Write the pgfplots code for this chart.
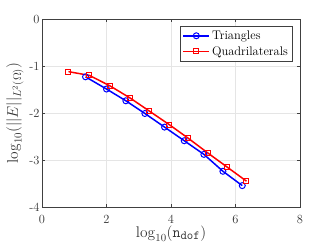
\RequirePackage{fix-cm}
\documentclass[border=0pt]{standalone}
\usepackage{pgfplots}
\pgfplotsset{compat=1.18}
\begin{document}
\begin{tikzpicture}[x=1bp,y=1bp]
\useasboundingbox (-42bp,-42bp) rectangle (290bp,207bp);
\begin{axis}[
  at={(0,0)}, anchor=south west,
  scale only axis, width=258bp, height=188bp,
  xmin=0, xmax=8, ymin=-4, ymax=0,
  xtick={0,2,4,6,8}, ytick={-4,-3,-2,-1,0},
  xticklabels={0,2,4,6,8}, yticklabels={-4,-3,-2,-1,0},
  grid=major, major grid style={draw=black!10, line width=0.4pt},
  axis line style={draw=black!75, line width=0.5pt},
  tick style={draw=black!75},
  tick align=inside, major tick length=3bp,
  tick label style={font=\fontsize{12.5}{14}\selectfont, text=black!80},
  xticklabel style={yshift=-5bp},
  yticklabel style={xshift=1bp},
  xlabel={$\log_{10}(\mathtt{n}_{\mbox{\fontsize{12.5}{13}\selectfont\ttfamily dof}})$},
  ylabel={$\log_{10}(||E||_{L^2(\Omega)})$},
  label style={font=\fontsize{15.5}{17}\selectfont, text=black!80},
  xlabel style={yshift=5bp},
  ylabel style={yshift=-1bp},
  legend style={at={(0.972,0.963)}, anchor=north east, draw=black!75, line width=0.5pt,
    font=\fontsize{12.5}{14}\selectfont, inner sep=2.5bp, row sep=1.5bp},
  legend cell align=left,
  legend image code/.code={\draw[#1] (0bp,0bp) -- (13bp,0bp) plot coordinates {(13bp,0bp)} -- (26bp,0bp);},
]
\addplot[blue, line width=1.5pt, mark=o, mark size=3bp, mark options={line width=1pt}] coordinates {
(1.35,-1.23) (2.00,-1.49) (2.60,-1.74) (3.19,-2.01) (3.80,-2.30) (4.41,-2.59) (5.02,-2.88) (5.61,-3.24) (6.21,-3.545)
};
\addlegendentry{Triangles}
\addplot[red, line width=1.5pt, mark=square, mark size=2.5bp, mark options={line width=1pt}] coordinates {
(0.82,-1.12) (1.47,-1.20) (2.10,-1.42) (2.73,-1.68) (3.33,-1.96) (3.94,-2.245) (4.54,-2.54) (5.14,-2.85) (5.75,-3.155) (6.34,-3.45)
};
\addlegendentry{Quadrilaterals}
\end{axis}
\end{tikzpicture}
\end{document}
